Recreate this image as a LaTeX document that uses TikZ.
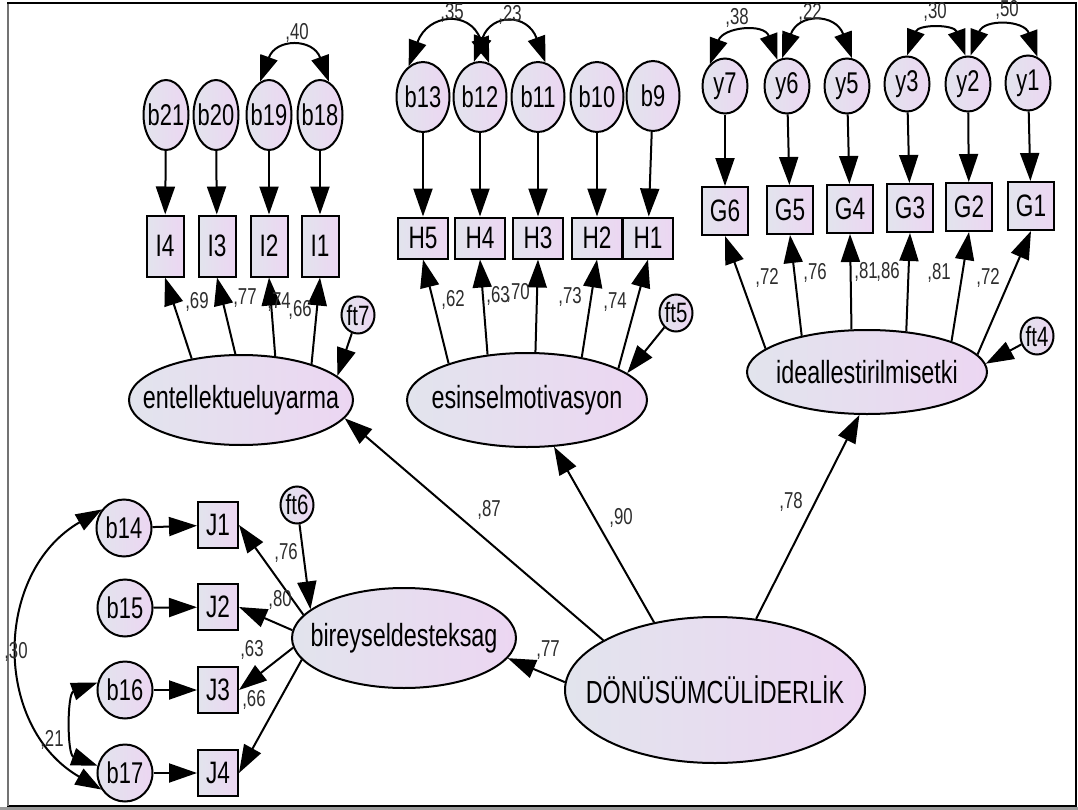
\documentclass[tikz,border=0pt]{standalone}
\usepackage{fontspec}
\setmainfont{Liberation Sans}[FakeStretch=0.73]
\usetikzlibrary{arrows.meta,shapes.geometric}
\definecolor{shadeL}{RGB}{226,228,237}
\definecolor{shadeR}{RGB}{236,214,242}
\definecolor{numgray}{RGB}{45,45,45}
\newcommand\zerow[1]{\makebox[0pt]{#1}}
\tikzset{
  base/.style={draw=black, line width=2bp, left color=shadeL, right color=shadeR, inner sep=0pt},
  latent/.style={base, ellipse, font=\fontsize{32bp}{32bp}\selectfont},
  err/.style={base, ellipse, font=\fontsize{30bp}{30bp}\selectfont},
  errL/.style={err, minimum width=45bp, minimum height=70bp},
  errM/.style={err, minimum width=53bp, minimum height=70bp},
  errR/.style={err, minimum width=45bp, minimum height=55bp},
  errB/.style={err, minimum width=55bp, minimum height=57bp},
  dist/.style={base, ellipse, minimum width=33bp, minimum height=37bp, font=\fontsize{28bp}{28bp}\selectfont},
  obs/.style={base, rectangle, font=\fontsize{31bp}{31bp}\selectfont},
  obsL/.style={obs, minimum width=37bp, minimum height=61bp},
  obsM/.style={obs, minimum width=50bp, minimum height=41bp},
  obsR/.style={obs, minimum width=46bp, minimum height=48bp},
  obsB/.style={obs, minimum width=40bp, minimum height=46bp},
  coef/.style={font=\fontsize{23bp}{23bp}\selectfont, text=numgray, inner sep=0pt},
  arr/.style={line width=2bp, -{Triangle[length=28bp,width=19bp]}},
  cov/.style={line width=2bp, {Triangle[length=26bp,width=18bp]}-{Triangle[length=26bp,width=18bp]}},
}
\begin{document}
\begin{tikzpicture}[x=1bp,y=1bp]
\useasboundingbox (0,0) rectangle (1078,-810);
% frame
\fill[white] (0,0) rectangle (1078,-810);
\fill[black!40] (0,-807) rectangle (1078,-810);
\draw[line width=1.2bp] (8,-3) rectangle (1076,-806);
\draw[black!55, line width=2.5bp] (8,-4) -- (8,-806);

% second-order factor
\node[latent, minimum width=300bp, minimum height=146bp] (DON) at (715,-690) {\zerow{DÖNÜSÜMCÜLİDERLİK}};

% first-order factors
\node[latent, minimum width=224bp, minimum height=90bp] (ent) at (241,-400) {\zerow{entellektueluyarma}};
\node[latent, minimum width=240bp, minimum height=94bp] (esin) at (527,-400) {\zerow{esinselmotivasyon}};
\node[latent, minimum width=240bp, minimum height=84bp] (ideal) at (867,-372) {\zerow{ideallestirilmisetki}};
\node[latent, minimum width=224bp, minimum height=100bp] (bir) at (404,-638) {\zerow{bireyseldesteksag}};

% disturbances
\node[dist] (ft7) at (358,-315) {\zerow{ft7}};
\node[dist] (ft5) at (676,-313) {\zerow{ft5}};
\node[dist] (ft4) at (1037,-336) {\zerow{ft4}};
\node[dist] (ft6) at (297,-505) {\zerow{ft6}};

% entellektueluyarma block
\node[errL] (b21) at (166,-115) {\zerow{b21}};
\node[errL] (b20) at (216,-115) {\zerow{b20}};
\node[errL] (b19) at (269,-115) {\zerow{b19}};
\node[errL] (b18) at (320,-115) {\zerow{b18}};
\node[obsL] (I4) at (165,-246) {I4};
\node[obsL] (I3) at (217,-246) {I3};
\node[obsL] (I2) at (269,-246) {I2};
\node[obsL] (I1) at (320,-246) {I1};

% esinselmotivasyon block
\node[errM] (b13) at (423,-97) {\zerow{b13}};
\node[errM] (b12) at (480,-97) {\zerow{b12}};
\node[errM] (b11) at (538,-97) {\zerow{b11}};
\node[errM] (b10) at (597,-97) {\zerow{b10}};
\node[errM] (b9) at (653,-96) {\zerow{b9}};
\node[obsM] (H5) at (423,-238) {H5};
\node[obsM] (H4) at (480,-238) {H4};
\node[obsM] (H3) at (538,-238) {H3};
\node[obsM] (H2) at (597,-238) {H2};
\node[obsM] (H1) at (648,-238) {H1};

% ideallestirilmisetki block
\node[errR] (y7) at (725,-86) {\zerow{y7}};
\node[errR] (y6) at (787,-86) {\zerow{y6}};
\node[errR] (y5) at (847,-86) {\zerow{y5}};
\node[errR] (y3) at (907,-84) {\zerow{y3}};
\node[errR] (y2) at (968,-84) {\zerow{y2}};
\node[errR] (y1) at (1028,-83) {\zerow{y1}};
\node[obsR] (G6) at (725,-211) {G6};
\node[obsR] (G5) at (790,-210) {G5};
\node[obsR] (G4) at (850,-209) {G4};
\node[obsR] (G3) at (910,-208) {G3};
\node[obsR] (G2) at (969,-207) {G2};
\node[obsR] (G1) at (1031,-206) {G1};

% bireyseldesteksag block
\node[errB] (b14) at (124,-528) {\zerow{b14}};
\node[errB] (b15) at (125,-608) {\zerow{b15}};
\node[errB] (b16) at (125,-690) {\zerow{b16}};
\node[errB] (b17) at (125,-773) {\zerow{b17}};
\node[obsB] (J1) at (218,-525) {J1};
\node[obsB] (J2) at (218,-607) {J2};
\node[obsB] (J3) at (218,-690) {J3};
\node[obsB] (J4) at (218,-773) {J4};

% error -> indicator paths
\foreach \e/\o in {b21/I4,b20/I3,b19/I2,b18/I1,b13/H5,b12/H4,b11/H3,b10/H2,b9/H1,
                   y7/G6,y6/G5,y5/G4,y3/G3,y2/G2,y1/G1,b14/J1,b15/J2,b16/J3,b17/J4}
  \draw[arr] (\e) -- (\o);

% loadings
\draw[arr] (ent.140) -- (I4.south);
\draw[arr] (ent.97) -- (I3.south);
\draw[arr] (ent.52) -- (I2.south);
\draw[arr] (ent.27) -- (I1.south);
\draw[arr] (esin.155) -- (H5.south);
\draw[arr] (esin.131) -- (H4.south);
\draw[arr] (esin.80) -- (H3.south);
\draw[arr] (esin.38) -- (H2.south);
\draw[arr] (esin.19) -- (H1.south);
\draw[arr] (ideal.167) -- (G6.south);
\draw[arr] (ideal.151) -- (G5.south);
\draw[arr] (ideal.110) -- (G4.south);
\draw[arr] (ideal.46) -- (G3.south);
\draw[arr] (ideal.20) -- (G2.south);
\draw[arr] (ideal.9) -- (G1.south);
\draw[arr] (bir.167) -- (J1.east);
\draw[arr] (bir.176) -- (J2.east);
\draw[arr] (bir.185) -- (J3.east);
\draw[arr] (bir.192) -- (J4.east);

% disturbances
\draw[arr] (ft7) -- (ent.14);
\draw[arr] (ft5) -- (esin.15);
\draw[arr] (ft4) -- (ideal.4);
\draw[arr] (ft6) -- (bir.163);

% structural paths
\draw[arr] (DON.156) -- (ent.-10);
\draw[arr] (DON.132) -- (esin.-60);
\draw[arr] (DON.60) -- (ideal.-100);
\draw[arr] (DON.177) -- (bir.-11);

% error covariances
\draw[cov] (b19.105) to[out=70,in=110,looseness=1.73] (b18.75);
\draw[cov] (b13.115) to[out=70,in=110,looseness=1.79] (b12.75);
\draw[cov] (b12.100) to[out=70,in=110,looseness=1.86] (b11.78);
\draw[cov] (y7.125) to[out=70,in=110,looseness=1.49] (y6.110);
\draw[cov] (y6.100) to[out=70,in=110,looseness=1.76] (y5.80);
\draw[cov] (y3.90) to[out=70,in=110,looseness=1.46] (y2.95);
\draw[cov] (y2.85) to[out=70,in=110,looseness=1.5] (y1.70);
\draw[cov] (b14.140) to[out=210,in=150,looseness=1.15] (b17.215);
\draw[cov] (b16.165) to[out=200,in=160,looseness=1] (b17.165);

% estimates
\node[coef] (c40) at (297,-33) {,40};
\node[coef] (c35) at (452,-13) {,35};
\node[coef] (c23) at (510,-15) {,23};
\node[coef] (c38) at (737,-18) {,38};
\node[coef] (c22) at (810,-13) {,22};
\node[coef] (c30a) at (935,-12) {,30};
\node[coef] (c50) at (1007,-10) {,50};
\node[coef] (c69) at (197,-302) {,69};
\node[coef] (c77a) at (245,-298) {,77};
\node[coef] (c74a) at (279,-302) {,74};
\node[coef] (c66a) at (300,-310) {,66};
\node[coef] (c62) at (453,-300) {,62};
\node[coef] (c63a) at (498,-296) {,63};
\node[coef] (c70) at (518,-293) {,70};
\node[coef] (c73) at (570,-297) {,73};
\node[coef] (c74b) at (615,-302) {,74};
\node[coef] (c72a) at (767,-278) {,72};
\node[coef] (c76a) at (815,-273) {,76};
\node[coef] (c81a) at (866,-272) {,81};
\node[coef] (c86) at (888,-272) {,86};
\node[coef] (c81b) at (939,-273) {,81};
\node[coef] (c72b) at (988,-278) {,72};
\node[coef] (c76b) at (286,-553) {,76};
\node[coef] (c80) at (280,-600) {,80};
\node[coef] (c63b) at (252,-650) {,63};
\node[coef] (c66b) at (254,-700) {,66};
\node[coef] (c30b) at (16,-652) {,30};
\node[coef] (c21) at (52,-740) {,21};
\node[coef] (c87) at (489,-510) {,87};
\node[coef] (c77b) at (548,-650) {,77};
\node[coef] (c90) at (621,-518) {,90};
\node[coef] (c78) at (791,-502) {,78};
\end{tikzpicture}
\end{document}
